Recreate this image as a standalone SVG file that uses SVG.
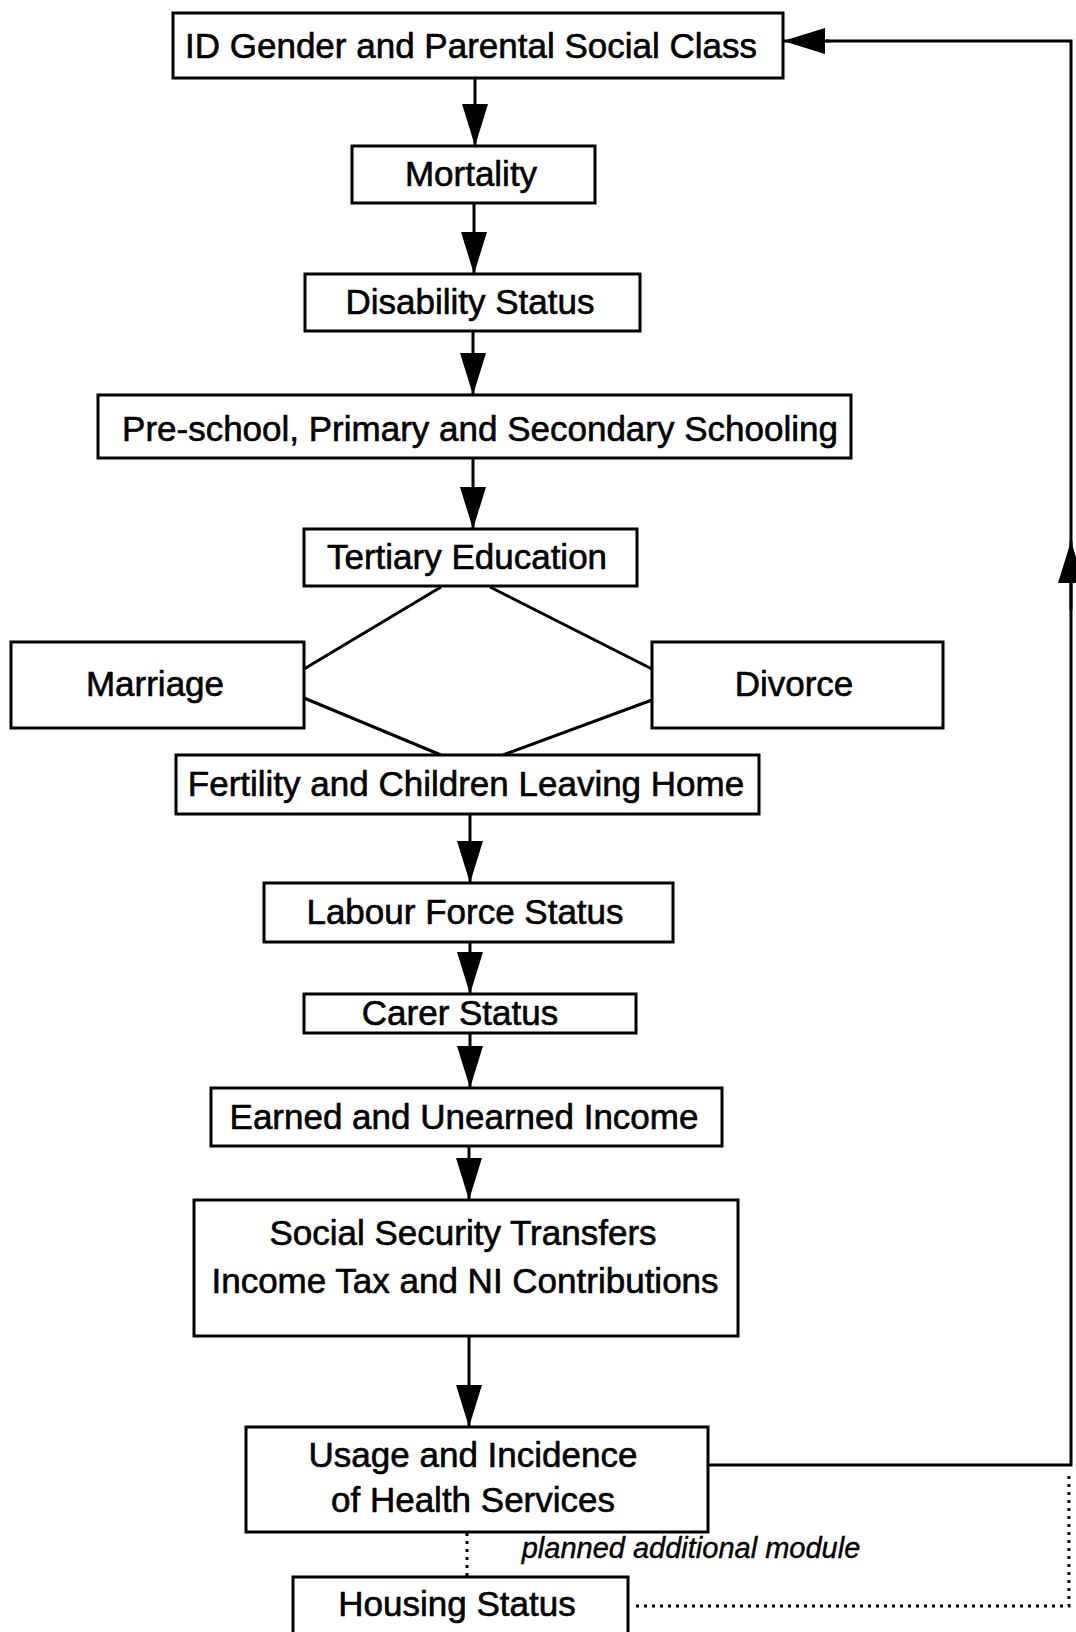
<svg xmlns="http://www.w3.org/2000/svg" width="1076" height="1632" viewBox="0 0 1076 1632">
<style>
.box{fill:#fff;stroke:#000;stroke-width:3}
.t{font-family:"Liberation Sans",Arial,sans-serif;font-size:35px;fill:#000;stroke:#000;stroke-width:0.6;text-anchor:middle}
.it{font-family:"Liberation Sans",Arial,sans-serif;font-size:29px;font-style:italic;fill:#000;stroke:#000;stroke-width:0.4;text-anchor:middle}
.ln{fill:none;stroke:#000;stroke-width:3}
.arr{fill:none;stroke:#000;stroke-width:3;marker-end:url(#ah)}
.dot{fill:none;stroke:#000;stroke-width:3;stroke-dasharray:3 5}
</style>
<defs>
<marker id="ah" markerUnits="userSpaceOnUse" markerWidth="42" markerHeight="26" refX="42" refY="13" orient="auto">
<path d="M0,0 L42,13 L0,26 z" fill="#000"/>
</marker>
</defs>
<rect width="1076" height="1632" fill="#fff"/>
<g id="connectors">
<line class="arr" x1="475" y1="78" x2="475" y2="146"/>
<line class="arr" x1="474" y1="203" x2="474" y2="274"/>
<line class="arr" x1="473" y1="331" x2="473" y2="395"/>
<line class="arr" x1="473" y1="458" x2="473" y2="529"/>
<line class="ln" x1="441" y1="587" x2="304" y2="669"/>
<line class="ln" x1="490" y1="587" x2="652" y2="669"/>
<line class="ln" x1="304" y1="698" x2="441" y2="755"/>
<line class="ln" x1="652" y1="700" x2="503" y2="755"/>
<line class="arr" x1="470" y1="814" x2="470" y2="883"/>
<line class="arr" x1="470" y1="942" x2="470" y2="994"/>
<line class="arr" x1="470" y1="1033" x2="470" y2="1088"/>
<line class="arr" x1="469" y1="1146" x2="469" y2="1200"/>
<line class="arr" x1="469" y1="1336" x2="469" y2="1427"/>
<polyline class="ln" points="708,1465 1071,1465 1071,41 826,41"/>
<line class="arr" x1="830" y1="41" x2="783" y2="41"/>
<line class="arr" x1="1071" y1="610" x2="1071" y2="541"/>
<line class="dot" x1="467" y1="1533" x2="467" y2="1577"/>
<polyline class="dot" points="636,1606 1069,1606 1069,1472"/>
</g>
<g id="n1"><rect class="box" x="173" y="13" width="610" height="65"/><text class="t" x="471" y="58">ID Gender and Parental Social Class</text></g>
<g id="n2"><rect class="box" x="352" y="146" width="243" height="57"/><text class="t" x="471" y="186">Mortality</text></g>
<g id="n3"><rect class="box" x="305" y="274" width="335" height="57"/><text class="t" x="470" y="314">Disability Status</text></g>
<g id="n4"><rect class="box" x="98" y="395" width="753" height="63"/><text class="t" x="480" y="441">Pre-school, Primary and Secondary Schooling</text></g>
<g id="n5"><rect class="box" x="304" y="529" width="333" height="57"/><text class="t" x="467" y="569">Tertiary Education</text></g>
<g id="n6"><rect class="box" x="11" y="642" width="293" height="86"/><text class="t" x="155" y="696">Marriage</text></g>
<g id="n7"><rect class="box" x="652" y="642" width="291" height="86"/><text class="t" x="794" y="696">Divorce</text></g>
<g id="n8"><rect class="box" x="176" y="755" width="583" height="59"/><text class="t" x="466" y="796">Fertility and Children Leaving Home</text></g>
<g id="n9"><rect class="box" x="264" y="883" width="409" height="59"/><text class="t" x="465" y="924">Labour Force Status</text></g>
<g id="n10"><rect class="box" x="304" y="994" width="332" height="39"/><text class="t" x="460" y="1025">Carer Status</text></g>
<g id="n11"><rect class="box" x="211" y="1088" width="511" height="58"/><text class="t" x="464" y="1129">Earned and Unearned Income</text></g>
<g id="n12"><rect class="box" x="194" y="1200" width="544" height="136"/><text class="t" x="463" y="1245">Social Security Transfers</text><text class="t" x="465" y="1293">Income Tax and NI Contributions</text></g>
<g id="n13"><rect class="box" x="246" y="1427" width="462" height="105"/><text class="t" x="473" y="1467">Usage and Incidence</text><text class="t" x="473" y="1512">of Health Services</text></g>
<g id="n14"><rect class="box" x="293" y="1577" width="335" height="70"/><text class="t" x="457" y="1616">Housing Status</text></g>
<text class="it" x="691" y="1558">planned additional module</text>
</svg>
